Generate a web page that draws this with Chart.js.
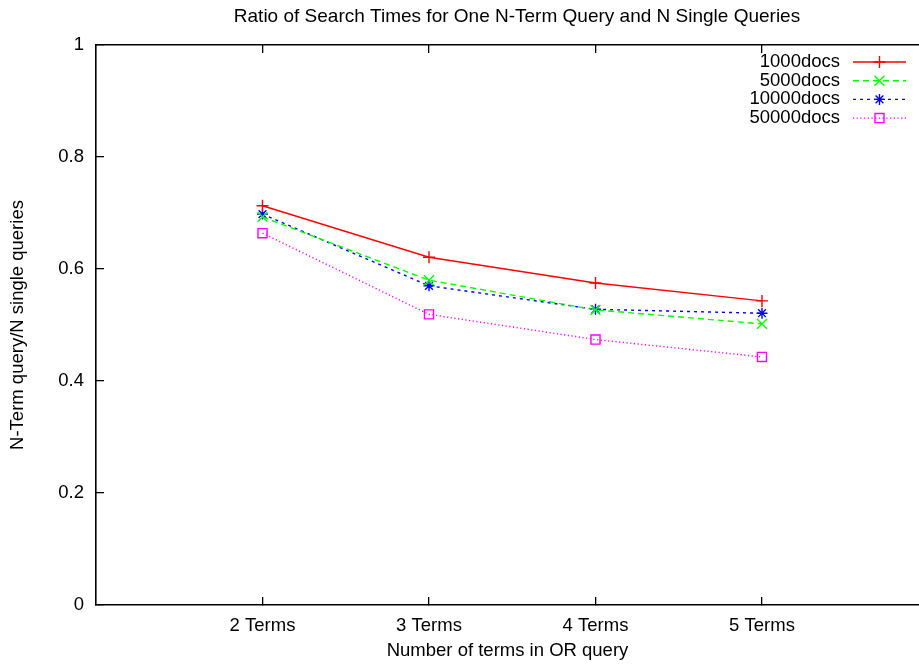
<!DOCTYPE html>
<html><head><meta charset="utf-8">
<script src="https://cdn.jsdelivr.net/npm/chart.js@4/dist/chart.umd.min.js"></script>
<style>html,body{margin:0;padding:0;background:#fff;overflow:hidden}#wrap{width:919px;height:664px;position:relative}</style>
</head><body><div id="wrap"><canvas id="c" width="919" height="664"></canvas></div>
<script>
const chartTitle = "Ratio of Search Times for One N-Term Query and N Single Queries";
const xAxisTitle = "Number of terms in OR query";
const yAxisTitle = "N-Term query/N single queries";
const categories = ["2 Terms", "3 Terms", "4 Terms", "5 Terms"];
const termCounts = [2, 3, 4, 5];
const seriesNames = ["1000docs", "5000docs", "10000docs", "50000docs"];
const docs1000 = [0.713, 0.621, 0.575, 0.543];
const docs5000 = [0.693, 0.580, 0.527, 0.502];
const docs10000 = [0.698, 0.570, 0.528, 0.521];
const docs50000 = [0.664, 0.519, 0.474, 0.443];
const yTicks = [0, 0.2, 0.4, 0.6, 0.8, 1];

const FONT_FAMILY = "'Liberation Sans', Arial, Helvetica, sans-serif";
const baseFont = {family: FONT_FAMILY, size: 18.5};

function pts(vals) { return termCounts.map((t, i) => ({x: t, y: vals[i]})); }

const datasets = [
  {label: seriesNames[0], data: pts(docs1000), borderColor: '#ff0000', borderDash: [], pointStyle: 'cross', pointRadius: 6},
  {label: seriesNames[1], data: pts(docs5000), borderColor: '#00ff00', borderDash: [6, 4], pointStyle: 'crossRot', pointRadius: 7},
  {label: seriesNames[2], data: pts(docs10000), borderColor: '#0000ff', borderDash: [3, 4], pointStyle: 'star', pointRadius: 5.5},
  {label: seriesNames[3], data: pts(docs50000), borderColor: '#ff00ff', borderDash: [1.2, 2.5], pointStyle: 'rect', pointRadius: 6.4}
].map(d => Object.assign(d, {
  borderWidth: 1.4, pointBorderColor: d.borderColor, pointBackgroundColor: 'rgba(0,0,0,0)',
  pointBorderWidth: 1.4, pointHoverRadius: d.pointRadius, fill: false, tension: 0
}));

const xMin = 1, xMax = 5.943;

const overlay = {
  id: 'overlay',
  afterDraw(chart) {
    const ctx = chart.ctx;
    ctx.save();
    ctx.fillStyle = '#000';
    ctx.font = '19px ' + FONT_FAMILY;
    ctx.textAlign = 'center';
    ctx.textBaseline = 'middle';
    ctx.fillText(chartTitle, 517, 17);
    // legend
    const right = 840, s1 = 853, s2 = 906, top = 62, step = 18.7;
    ctx.font = baseFont.size + 'px ' + FONT_FAMILY;
    ctx.textAlign = 'right';
    chart.data.datasets.forEach((ds, i) => {
      const y = top + i * step;
      ctx.fillStyle = '#000';
      ctx.fillText(ds.label, right, y);
      ctx.strokeStyle = ds.borderColor;
      ctx.lineWidth = ds.borderWidth;
      ctx.setLineDash(ds.borderDash);
      ctx.beginPath(); ctx.moveTo(s1, y); ctx.lineTo(s2, y); ctx.stroke();
      ctx.setLineDash([]);
      ctx.fillStyle = 'rgba(0,0,0,0)';
      ctx.lineWidth = ds.pointBorderWidth;
      Chart.helpers.drawPoint(ctx, {pointStyle: ds.pointStyle, radius: ds.pointRadius, rotation: 0, borderWidth: ds.pointBorderWidth}, (s1 + s2) / 2, y);
    });
    ctx.restore();
  }
};

const axisGrid = {drawOnChartArea: false, drawTicks: true, tickLength: -8, color: '#000', lineWidth: 1.3};
const axisBorder = {display: true, color: '#000', width: 1.6};

new Chart(document.getElementById('c'), {
  type: 'line',
  data: {datasets},
  options: {
    responsive: false, animation: false, devicePixelRatio: 1,
    layout: {padding: 0, autoPadding: false},
    plugins: {legend: {display: false}, title: {display: false}, tooltip: {enabled: false}},
    scales: {
      x: {
        type: 'linear', position: 'bottom', min: xMin, max: xMax,
        afterBuildTicks: s => { s.ticks = termCounts.map(v => ({value: v})); },
        afterFit: s => { s.height = 59; },
        ticks: {callback: v => categories[termCounts.indexOf(v)], font: baseFont, color: '#000', padding: 18, maxRotation: 0, autoSkip: false},
        grid: axisGrid, border: axisBorder,
        title: {display: true, text: xAxisTitle, font: baseFont, color: '#000', padding: {top: 0, bottom: 2}}
      },
      x2: {
        type: 'linear', position: 'top', min: xMin, max: xMax,
        afterBuildTicks: s => { s.ticks = termCounts.map(v => ({value: v})); },
        afterFit: s => { s.height = 45; },
        ticks: {display: false},
        grid: axisGrid, border: axisBorder
      },
      y: {
        type: 'linear', position: 'left', min: 0, max: 1,
        afterBuildTicks: s => { s.ticks = yTicks.map(v => ({value: v})); },
        afterFit: s => { s.width = 96; },
        ticks: {callback: v => String(v), font: baseFont, color: '#000', padding: 20},
        grid: axisGrid, border: axisBorder,
        title: {display: true, text: yAxisTitle, font: baseFont, color: '#000', padding: {top: 7, bottom: 0}}
      }
    }
  },
  plugins: [overlay]
});
</script>
</body></html>
